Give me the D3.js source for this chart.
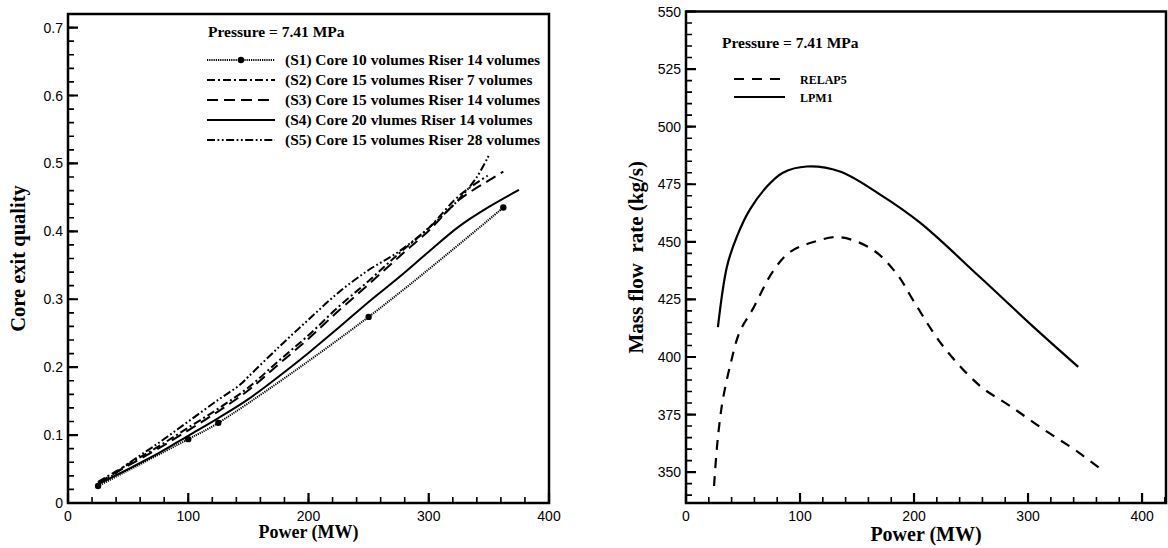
<!DOCTYPE html>
<html lang="en">
<head>
  <meta charset="UTF-8">
  <title>Core exit quality and mass flow rate</title>
  <script src="https://d3js.org/d3.v7.min.js"></script>
  <style>
    body { margin: 0; background: #fff; }
    .lbl { font-family: "Liberation Sans", Arial, sans-serif; font-size: 14px; fill: #000; }
    .title { font-family: "Liberation Serif", "Times New Roman", serif; font-weight: bold; fill: #000; }
  </style>
</head>
<body>
  <div id="chart"></div>

  <script>
    // ---- left panel data: power (MW) vs core exit quality ----
    const s1Power   = [25, 100, 125, 250, 362];
    const s1Quality = [0.025, 0.094, 0.118, 0.274, 0.435];

    const s2Power   = [25, 50, 75, 100, 125, 150, 175, 200, 225, 250, 275, 300, 325, 349];
    const s2Quality = [0.031, 0.057, 0.083, 0.111, 0.139, 0.17, 0.209, 0.247, 0.289, 0.327, 0.367, 0.405, 0.452, 0.482];

    const s3Power   = [25, 50, 75, 100, 125, 150, 175, 200, 225, 250, 275, 300, 325, 350, 362];
    const s3Quality = [0.03, 0.055, 0.08, 0.107, 0.135, 0.166, 0.204, 0.242, 0.283, 0.322, 0.362, 0.401, 0.446, 0.475, 0.488];

    const s4Power   = [25, 50, 75, 100, 125, 150, 175, 200, 225, 250, 275, 300, 325, 350, 375];
    const s4Quality = [0.028, 0.05, 0.073, 0.099, 0.125, 0.153, 0.186, 0.221, 0.258, 0.296, 0.332, 0.37, 0.407, 0.436, 0.461];

    const s5Power   = [25, 35, 50, 75, 100, 125, 143, 150, 175, 200, 225, 250, 275, 300, 325, 340, 350];
    const s5Quality = [0.03, 0.038, 0.058, 0.088, 0.12, 0.152, 0.174, 0.186, 0.229, 0.27, 0.31, 0.343, 0.37, 0.405, 0.447, 0.48, 0.512];

    const leftLegend = [
      "(S1) Core 10 volumes Riser 14 volumes",
      "(S2) Core 15 volumes Riser 7 volumes",
      "(S3) Core 15 volumes Riser 14 volumes",
      "(S4) Core 20 vlumes Riser 14 volumes",
      "(S5) Core 15 volumes Riser 28 volumes"
    ];

    // ---- right panel data: power (MW) vs mass flow rate (kg/s) ----
    const relapPower = [24.6, 27, 29.8, 32.5, 38.6, 47, 58.8, 76, 91, 111, 135, 164, 185, 200, 225, 258, 284, 313, 343, 362];
    const relapFlow  = [344, 360, 373, 382, 396, 410.8, 421, 437, 445.5, 449.8, 452, 446.5, 436, 424, 405, 387.4, 378.8, 368.8, 359, 352];

    const lpmPower = [28, 36, 44.7, 56, 71, 85, 106, 135, 170, 205, 258, 304, 344];
    const lpmFlow  = [413, 439.4, 452.4, 464, 474, 480, 482.7, 480.5, 470.6, 458.4, 434.6, 413.4, 395.7];

    const rightLegend = ["RELAP5", "LPM1"];
    const pressureLabel = "Pressure = 7.41 MPa";

    // ---- tick values ----
    const leftXTicks  = [0, 100, 200, 300, 400];
    const leftYTicks  = [0, 0.1, 0.2, 0.3, 0.4, 0.5, 0.6, 0.7];
    const rightXTicks = [0, 100, 200, 300, 400];
    const rightYTicks = [350, 375, 400, 425, 450, 475, 500, 525, 550];

    const W = 1168, H = 548;
    const svg = d3.select("#chart").append("svg")
      .attr("width", W).attr("height", H);

    const zip = (xs, ys) => xs.map((x, i) => ({x: x, y: ys[i]}));
    const tickLayer = [];   // tick marks are drawn last, on top of everything

    function panel(opt) {
      const x = d3.scaleLinear().domain(opt.xDomain).range([opt.left, opt.right]);
      const y = d3.scaleLinear().domain(opt.yDomain).range([opt.bottom, opt.top]);
      const g = svg.append("g");

      // frame
      g.append("rect")
        .attr("x", opt.left).attr("y", opt.top)
        .attr("width", opt.right - opt.left).attr("height", opt.bottom - opt.top)
        .attr("fill", "none").attr("stroke", "#000").attr("stroke-width", 2.5);

      // tick labels
      g.selectAll(null).data(opt.xTicks).enter().append("text")
        .attr("class", "lbl")
        .attr("x", d => x(d)).attr("y", opt.bottom + 18)
        .attr("text-anchor", "middle")
        .text(d3.format("d"));
      g.selectAll(null).data(opt.yTicks).enter().append("text")
        .attr("class", "lbl")
        .attr("x", opt.left - 5).attr("y", d => y(d)).attr("dy", "0.36em")
        .attr("text-anchor", "end")
        .text(opt.yFormat);

      // inward tick marks as one path per size
      const pathFor = (xs, ys, len) =>
        xs.map(v => `M${x(v)},${opt.bottom}V${opt.bottom - len}`).join("") +
        ys.map(v => `M${opt.left},${y(v)}H${opt.left + len}`).join("");
      tickLayer.push({d: pathFor(opt.xMinor, opt.yMinor, 6), w: 1.6});
      tickLayer.push({d: pathFor(opt.xTicks, opt.yTicks, 10), w: 2.2});

      // axis titles
      g.append("text").attr("class", "title")
        .attr("x", (opt.left + opt.right) / 2).attr("y", opt.xTitleY)
        .attr("text-anchor", "middle").style("font-size", opt.xTitleSize + "px")
        .text("Power (MW)");
      g.append("text").attr("class", "title")
        .attr("transform", `translate(${opt.yTitleX},${(opt.top + opt.bottom) / 2}) rotate(-90)`)
        .attr("text-anchor", "middle").style("font-size", opt.yTitleSize + "px")
        .style("white-space", "pre")
        .text(opt.yTitle);

      return {g, x, y};
    }

    // ---------- left panel ----------
    const L = panel({
      left: 68, right: 549, top: 14, bottom: 503,
      xDomain: [0, 400], yDomain: [0, 0.72],
      xTicks: leftXTicks, yTicks: leftYTicks,
      xMinor: d3.range(0, 401, 20), yMinor: d3.range(0, 0.721, 0.02),
      yFormat: d => d === 0 ? "0" : d3.format(".1f")(d),
      xTitleY: 538, xTitleSize: 18,
      yTitleX: 25, yTitleSize: 20.5, yTitle: "Core exit quality"
    });

    const lineL = d3.line().x(d => L.x(d.x)).y(d => L.y(d.y)).curve(d3.curveCatmullRom.alpha(0.5));

    const leftSeries = [
      {pts: zip(s1Power, s1Quality), dash: "1.2,1", width: 2, marker: true},
      {pts: zip(s2Power, s2Quality), dash: "8,3,2,3", width: 2},
      {pts: zip(s3Power, s3Quality), dash: "11,6", width: 2},
      {pts: zip(s4Power, s4Quality), dash: null, width: 2},
      {pts: zip(s5Power, s5Quality), dash: "8,2.5,1.8,2.5,1.8,2.5", width: 2}
    ];

    leftSeries.forEach(s => {
      L.g.append("path")
        .attr("d", lineL(s.pts))
        .attr("fill", "none").attr("stroke", "#000")
        .attr("stroke-width", s.width)
        .attr("stroke-dasharray", s.dash);
      if (s.marker) {
        L.g.selectAll(null).data(s.pts).enter().append("circle")
          .attr("cx", d => L.x(d.x)).attr("cy", d => L.y(d.y))
          .attr("r", 3.2).attr("fill", "#000");
      }
    });

    // legend
    L.g.append("text").attr("class", "title")
      .attr("x", 208).attr("y", 37).style("font-size", "15.5px")
      .text(pressureLabel);
    leftSeries.forEach((s, i) => {
      const ly = 60 + i * 20;
      L.g.append("line")
        .attr("x1", 207).attr("x2", 275).attr("y1", ly).attr("y2", ly)
        .attr("stroke", "#000").attr("stroke-width", s.width)
        .attr("stroke-dasharray", s.dash);
      if (s.marker) {
        L.g.append("circle").attr("cx", 241).attr("cy", ly).attr("r", 3.2).attr("fill", "#000");
      }
      L.g.append("text").attr("class", "title")
        .attr("x", 285).attr("y", ly + 5).style("font-size", "15.4px")
        .text(leftLegend[i]);
    });

    // ---------- right panel ----------
    const R = panel({
      left: 686, right: 1166, top: 11.5, bottom: 503,
      xDomain: [0, 421], yDomain: [336.6, 550],
      xTicks: rightXTicks, yTicks: rightYTicks,
      xMinor: d3.range(0, 421, 20), yMinor: d3.range(340, 551, 5),
      yFormat: d3.format("d"),
      xTitleY: 541, xTitleSize: 20,
      yTitleX: 643, yTitleSize: 21, yTitle: "Mass flow  rate (kg/s)"
    });

    const lineR = d3.line().x(d => R.x(d.x)).y(d => R.y(d.y)).curve(d3.curveCatmullRom.alpha(0.5));

    const rightSeries = [
      {pts: zip(relapPower, relapFlow), dash: "10,8"},
      {pts: zip(lpmPower, lpmFlow), dash: null}
    ];

    rightSeries.forEach((s, i) => {
      R.g.append("path")
        .attr("d", lineR(s.pts))
        .attr("fill", "none").attr("stroke", "#000")
        .attr("stroke-width", 2.2)
        .attr("stroke-dasharray", s.dash);
      const ly = 79 + i * 18;
      R.g.append("line")
        .attr("x1", 734).attr("x2", 785).attr("y1", ly).attr("y2", ly)
        .attr("stroke", "#000").attr("stroke-width", 2.2)
        .attr("stroke-dasharray", s.dash);
      R.g.append("text").attr("class", "title")
        .attr("x", 800).attr("y", ly + 4.5).style("font-size", "12px")
        .text(rightLegend[i]);
    });

    R.g.append("text").attr("class", "title")
      .attr("x", 722).attr("y", 48).style("font-size", "15.5px")
      .text(pressureLabel);

    // tick marks on top
    svg.append("g").selectAll(null).data(tickLayer).enter().append("path")
      .attr("d", d => d.d)
      .attr("fill", "none").attr("stroke", "#000")
      .attr("stroke-width", d => d.w);
  </script>
</body>
</html>
